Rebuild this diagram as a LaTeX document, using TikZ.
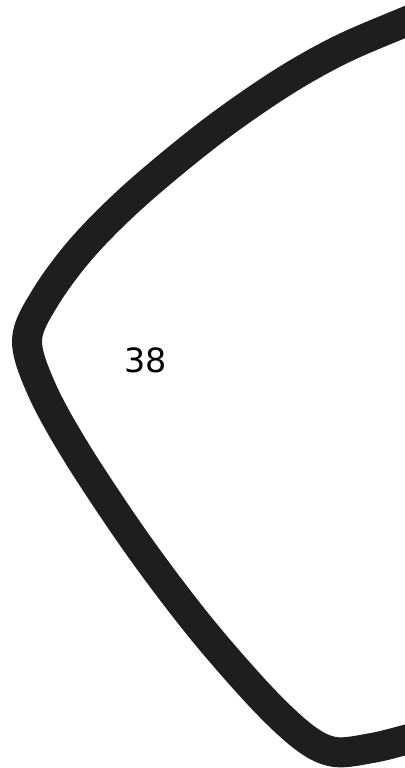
\documentclass[tikz,border=0pt]{standalone}
\usepackage{fontspec}
\setmainfont{DejaVu Sans}
\usepackage{xcolor}
\definecolor{bandgray}{HTML}{1E1E1E}

\begin{document}
\begin{tikzpicture}[x=0.02cm, y=-0.02cm,
  band/.style={draw=bandgray, line width=0.6cm, line join=round},
  label/.style={font=\fontsize{19}{23}\selectfont, inner sep=0pt}]
\useasboundingbox (0,0) rectangle (405,768);
% outline
\draw[band] plot[smooth, tension=0.55] coordinates {
  (440,8) (405,22) (340,50) (280,84) (210,133) (135,195) (82,248)
  (45,298) (27,340) (42,390) (78,455) (138,545) (200,627) (262,698)
  (305,738) (335,752) (372,748) (405,740) (440,730)};
\node[label] (num) at (146,360) {38};
\end{tikzpicture}
\end{document}
